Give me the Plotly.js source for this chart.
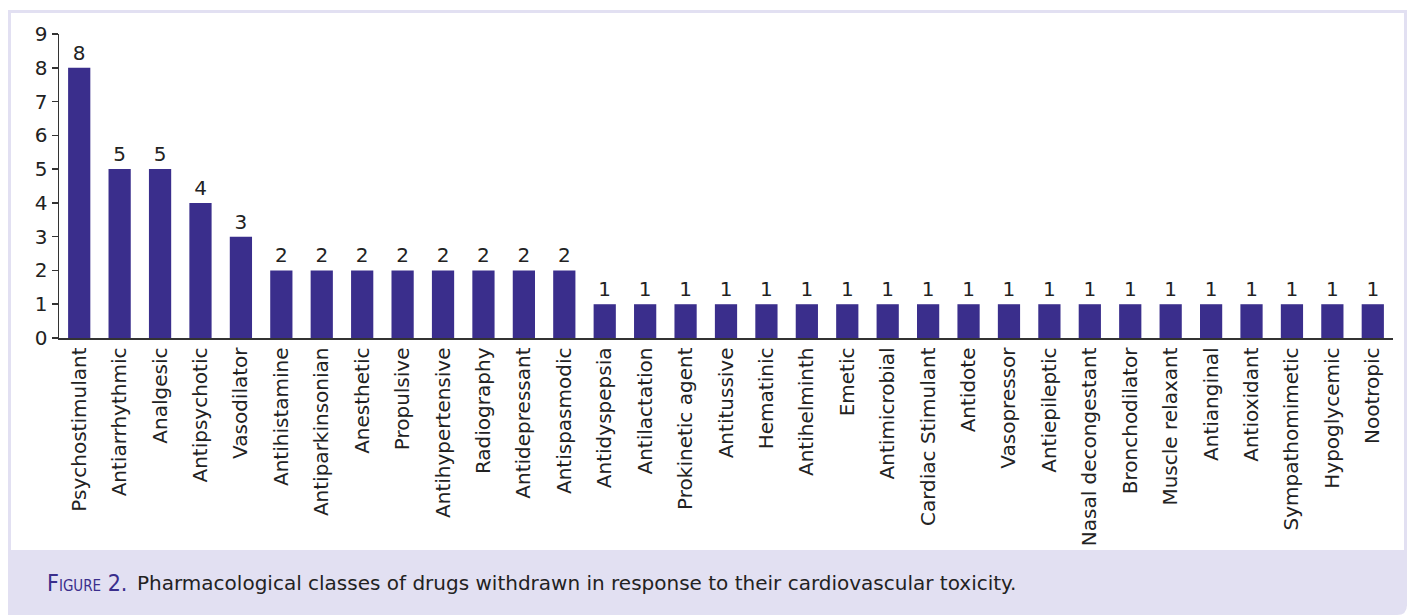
<!DOCTYPE html>
<html>
<head>
<meta charset="utf-8">
<script src="https://cdn.plot.ly/plotly-3.0.1.min.js"></script>
<style>html,body{margin:0;padding:0;background:#fff;}#chart{width:1412px;height:615px;}</style>
</head>
<body>
<div id="chart"></div>
<script>
const categories = ["Psychostimulant","Antiarrhythmic","Analgesic","Antipsychotic","Vasodilator","Antihistamine","Antiparkinsonian","Anesthetic","Propulsive","Antihypertensive","Radiography","Antidepressant","Antispasmodic","Antidyspepsia","Antilactation","Prokinetic agent","Antitussive","Hematinic","Antihelminth","Emetic","Antimicrobial","Cardiac Stimulant","Antidote","Vasopressor","Antiepileptic","Nasal decongestant","Bronchodilator","Muscle relaxant","Antianginal","Antioxidant","Sympathomimetic","Hypoglycemic","Nootropic"];
const counts = [8,5,5,4,3,2,2,2,2,2,2,2,2,1,1,1,1,1,1,1,1,1,1,1,1,1,1,1,1,1,1,1,1];
const yTicks = [0,1,2,3,4,5,6,7,8,9];
const captionLabel = "F<span style='font-size:15px'>IGURE</span> 2.";
const captionText = "Pharmacological classes of drugs withdrawn in response to their cardiovascular toxicity.";

const W = 1412, H = 615;
const L = 59, R = 1393, T = 34, B = 338;
const px = x => (x - L) / (R - L);
const py = y => (B - y) / (B - T);
const lav = '#e2e0f2';
const fontFam = '"DejaVu Sans", Verdana, sans-serif';
const condFam = '"DejaVu Sans Condensed", "DejaVu Sans", sans-serif';

const trace = {
  type: 'bar', x: categories, y: counts,
  marker: {color: '#3a2e8c'},
  text: counts.map(String), textposition: 'outside',
  textfont: {family: fontFam, size: 20, color: '#222'},
  cliponaxis: false, hoverinfo: 'skip'
};

// caption band with rounded bottom-right corner (in paper coords)
const r = 10;
const bandPath = 'M ' + px(8) + ',' + py(550) + ' L ' + px(1407) + ',' + py(550) +
  ' L ' + px(1407) + ',' + py(615 - r) +
  ' Q ' + px(1407) + ',' + py(615) + ' ' + px(1407 - r) + ',' + py(615) +
  ' L ' + px(8) + ',' + py(615) + ' Z';

const layout = {
  width: W, height: H,
  margin: {l: L, r: W - R, t: T, b: H - B, pad: 0},
  paper_bgcolor: '#fff', plot_bgcolor: '#fff',
  bargap: 0.45, showlegend: false,
  font: {family: fontFam, size: 20, color: '#222'},
  xaxis: {
    type: 'category', tickangle: -90, showline: true, linecolor: '#333', linewidth: 1.5,
    ticks: '', showgrid: false, zeroline: false, ticklabelstandoff: 0,
    tickfont: {family: fontFam, size: 20, color: '#222'}, automargin: false
  },
  yaxis: {
    range: [0, 9], tickvals: yTicks, ticktext: yTicks.map(String),
    showline: true, linecolor: '#333', linewidth: 1.5, ticks: 'outside', ticklen: 6,
    tickcolor: '#333', tickwidth: 1.5, showgrid: false, zeroline: false,
    tickfont: {family: fontFam, size: 20, color: '#222'}, automargin: false
  },
  shapes: [
    {type: 'path', xref: 'paper', yref: 'paper', layer: 'below',
     path: bandPath, fillcolor: lav, line: {width: 0}},
    {type: 'path', xref: 'paper', yref: 'paper', layer: 'below',
     path: 'M ' + px(9.5) + ',' + py(615) + ' L ' + px(9.5) + ',' + py(11.5) +
       ' L ' + px(1405.5) + ',' + py(11.5) + ' L ' + px(1405.5) + ',' + py(606),
     line: {color: lav, width: 3}}
  ],
  annotations: [
    {xref: 'paper', yref: 'paper', x: px(45), y: py(583), xanchor: 'left', yanchor: 'middle',
     text: captionLabel, showarrow: false, font: {family: condFam, size: 23, color: '#3a2e8c'}},
    {xref: 'paper', yref: 'paper', x: px(135), y: py(583), xanchor: 'left', yanchor: 'middle',
     text: captionText, showarrow: false, font: {family: fontFam, size: 20, color: '#222'}}
  ]
};

Plotly.newPlot('chart', [trace], layout, {displayModeBar: false, staticPlot: true});
</script>
</body>
</html>
